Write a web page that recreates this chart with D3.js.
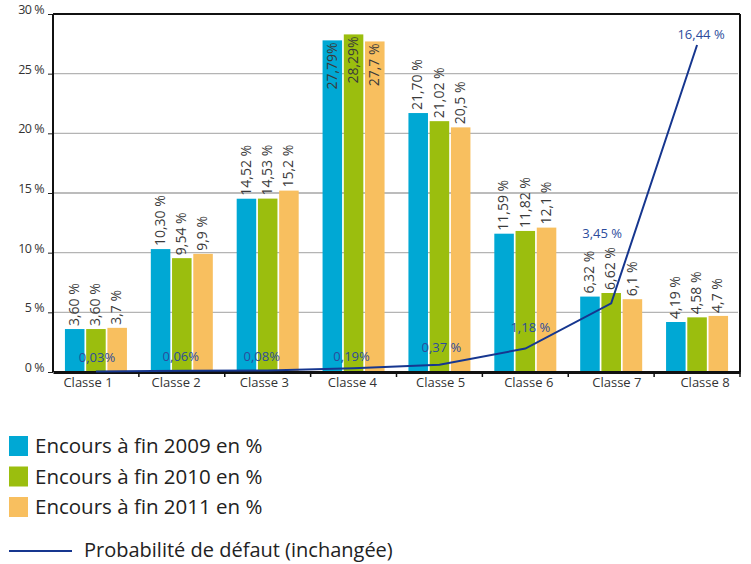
<!DOCTYPE html>
<html>
<head>
<meta charset="utf-8">
<script src="https://cdn.jsdelivr.net/npm/d3@7"></script>
<style>
  html, body { margin: 0; padding: 0; background: #fff; }
  svg { display: block; font-family: "Open Sans", sans-serif; }
</style>
</head>
<body>
<svg id="chart" width="751" height="564"></svg>
<script>
// Répartition des encours par classe de notation
const categories = ["Classe 1", "Classe 2", "Classe 3", "Classe 4", "Classe 5", "Classe 6", "Classe 7", "Classe 8"];
const seriesNames = ["Encours à fin 2009 en %", "Encours à fin 2010 en %", "Encours à fin 2011 en %"];
const encours2009 = [3.60, 10.30, 14.52, 27.79, 21.70, 11.59, 6.32, 4.19];
const encours2010 = [3.60, 9.54, 14.53, 28.29, 21.02, 11.82, 6.62, 4.58];
const encours2011 = [3.7, 9.9, 15.2, 27.7, 20.5, 12.1, 6.1, 4.7];
const labels2009 = ["3,60 %", "10,30 %", "14,52 %", "27,79%", "21,70 %", "11,59 %", "6,32 %", "4,19 %"];
const labels2010 = ["3,60 %", "9,54 %", "14,53 %", "28,29%", "21,02 %", "11,82 %", "6,62 %", "4,58 %"];
const labels2011 = ["3,7 %", "9,9 %", "15,2 %", "27,7 %", "20,5 %", "12,1 %", "6,1 %", "4,7 %"];
const probaDefaut = [0.03, 0.06, 0.08, 0.19, 0.37, 1.18, 3.45, 16.44];
const probaLabels = ["0,03%", "0,06%", "0,08%", "0,19%", "0,37 %", "1,18 %", "3,45 %", "16,44 %"];
const lineName = "Probabilité de défaut (inchangée)";
const yTicks = [0, 5, 10, 15, 20, 25, 30];

const colors = ["#00a8d4", "#9bbe0e", "#f8bf5f"];
const lineColor = "#16368f";
const lineLabelColor = "#2c4c9c";

const svg = d3.select("#chart");
const plot = { left: 53, right: 740, top: 14, bottom: 372 };

const x = d3.scaleBand().domain(categories).range([plot.left, plot.right]);
const xLabel = d3.scalePoint().domain(categories).range([88, 705]);
const xs = d3.scaleBand().domain(seriesNames).range([-31, 31]).paddingInner(0.08);
const y = d3.scaleLinear().domain([0, 30]).range([plot.bottom, plot.top]);
// Axe secondaire de la probabilité de défaut
const y2 = d3.scaleLinear().domain([0, 18]).range([plot.bottom, plot.top]);

// Quadrillage
svg.append("g").selectAll("line")
  .data(yTicks.filter(t => t > 0 && t < 30))
  .join("line")
  .attr("x1", plot.left).attr("x2", plot.right - 2)
  .attr("y1", d => y(d)).attr("y2", d => y(d))
  .attr("stroke", d => d === 15 ? "#7a7a7a" : "#b4b4b4")
  .attr("stroke-width", 1.2);

// Axe Y
const yAxis = d3.axisLeft(y).tickValues(yTicks).tickSize(5).tickPadding(4)
  .tickFormat(d => d + " %");
const gy = svg.append("g").attr("transform", `translate(${plot.left},0)`).call(yAxis);
gy.select(".domain").remove();
gy.selectAll(".tick line").attr("stroke", "#222").attr("stroke-width", 1);
gy.selectAll(".tick text").attr("fill", "#333").attr("font-size", 12.5)
  .attr("font-family", "Open Sans").attr("dy", "-0.05em").attr("letter-spacing", "-0.5");

// Barres
const seriesValues = [encours2009, encours2010, encours2011];
const seriesLabels = [labels2009, labels2010, labels2011];
const barData = [];
seriesNames.forEach((s, si) => categories.forEach((c, ci) => {
  barData.push({ s, si, c, v: seriesValues[si][ci], label: seriesLabels[si][ci] });
}));

svg.append("g").selectAll("rect")
  .data(barData)
  .join("rect")
  .attr("x", d => x(d.c) + x.bandwidth() / 2 + xs(d.s))
  .attr("width", xs.bandwidth())
  .attr("y", d => y(d.v))
  .attr("height", d => y(0) - y(d.v))
  .attr("fill", d => colors[d.si]);

// Étiquettes des barres (verticales)
svg.append("g").selectAll("text")
  .data(barData)
  .join("text")
  .attr("transform", d => {
    const cx = x(d.c) + x.bandwidth() / 2 + xs(d.s) + xs.bandwidth() / 2;
    const inside = d.v > 26;
    const ty = inside ? y(d.v) + 2 : y(d.v) - 3;
    return `translate(${cx},${ty}) rotate(-90)`;
  })
  .attr("text-anchor", d => d.v > 26 ? "end" : "start")
  .attr("dy", "0.3em")
  .attr("fill", "#3a3a3a")
  .attr("font-size", 14)
  .text(d => d.label);

// Cadre et axe X
svg.append("line").attr("x1", plot.left).attr("x2", plot.right)
  .attr("y1", plot.top).attr("y2", plot.top).attr("stroke", "#111").attr("stroke-width", 2);
svg.append("line").attr("x1", plot.right).attr("x2", plot.right)
  .attr("y1", plot.top).attr("y2", plot.bottom).attr("stroke", "#111").attr("stroke-width", 2);
svg.append("line").attr("x1", plot.left).attr("x2", plot.left)
  .attr("y1", plot.top).attr("y2", plot.bottom).attr("stroke", "#111").attr("stroke-width", 2);

const xAxis = d3.axisBottom(x).tickSize(0).tickPadding(0);
const gx = svg.append("g").attr("transform", `translate(0,${plot.bottom})`).call(xAxis);
gx.select(".domain").attr("stroke", "#111").attr("stroke-width", 3);
gx.selectAll(".tick text")
  .attr("x", d => xLabel(d) - (x(d) + x.bandwidth() / 2))
  .attr("y", 11).attr("dy", "0.32em")
  .attr("fill", "#333").attr("font-size", 13).attr("font-family", "Open Sans");
// Séparateurs entre classes
svg.append("g").selectAll("line")
  .data(categories.slice(1).concat(["__fin"]))
  .join("line")
  .attr("x1", d => d === "__fin" ? plot.right : x(d))
  .attr("x2", d => d === "__fin" ? plot.right : x(d))
  .attr("y1", plot.bottom).attr("y2", plot.bottom + 5)
  .attr("stroke", "#111").attr("stroke-width", 1.5);

// Courbe de probabilité de défaut
const linePts = categories.map((c, i) => ({ c, v: probaDefaut[i], label: probaLabels[i] }));
const line = d3.line().x(d => x(d.c) + x.bandwidth() / 2).y(d => y2(d.v));
svg.append("path").datum(linePts)
  .attr("d", line).attr("fill", "none")
  .attr("stroke", lineColor).attr("stroke-width", 2);

// Décalages des étiquettes de la courbe
const labelDx = [1, -1, -6, -2, 2, 5, -9, 4];
const labelDy = [-14, -14, -14, -11, -17, -21, -70, -10];
svg.append("g").selectAll("text")
  .data(linePts)
  .join("text")
  .attr("x", (d, i) => x(d.c) + x.bandwidth() / 2 + labelDx[i])
  .attr("y", (d, i) => y2(d.v) + labelDy[i])
  .attr("text-anchor", "middle")
  .attr("dy", "0.32em")
  .attr("fill", lineLabelColor)
  .attr("font-size", 13)
  .text(d => d.label);

// Légende
const legend = svg.append("g").attr("transform", "translate(9,0)");
seriesNames.forEach((s, i) => {
  const cy = 446 + i * 30.5;
  legend.append("rect").attr("x", 0).attr("y", cy - 10).attr("width", 19).attr("height", 20)
    .attr("fill", colors[i]);
  legend.append("text").attr("x", 26).attr("y", cy).attr("dy", "0.35em")
    .attr("font-size", 20.5).attr("fill", "#222").text(s);
});
legend.append("line").attr("x1", 0).attr("x2", 63).attr("y1", 551).attr("y2", 551)
  .attr("stroke", lineColor).attr("stroke-width", 2);
legend.append("text").attr("x", 75).attr("y", 550).attr("dy", "0.35em")
  .attr("font-size", 20).attr("fill", "#222").text(lineName);
</script>
</body>
</html>
